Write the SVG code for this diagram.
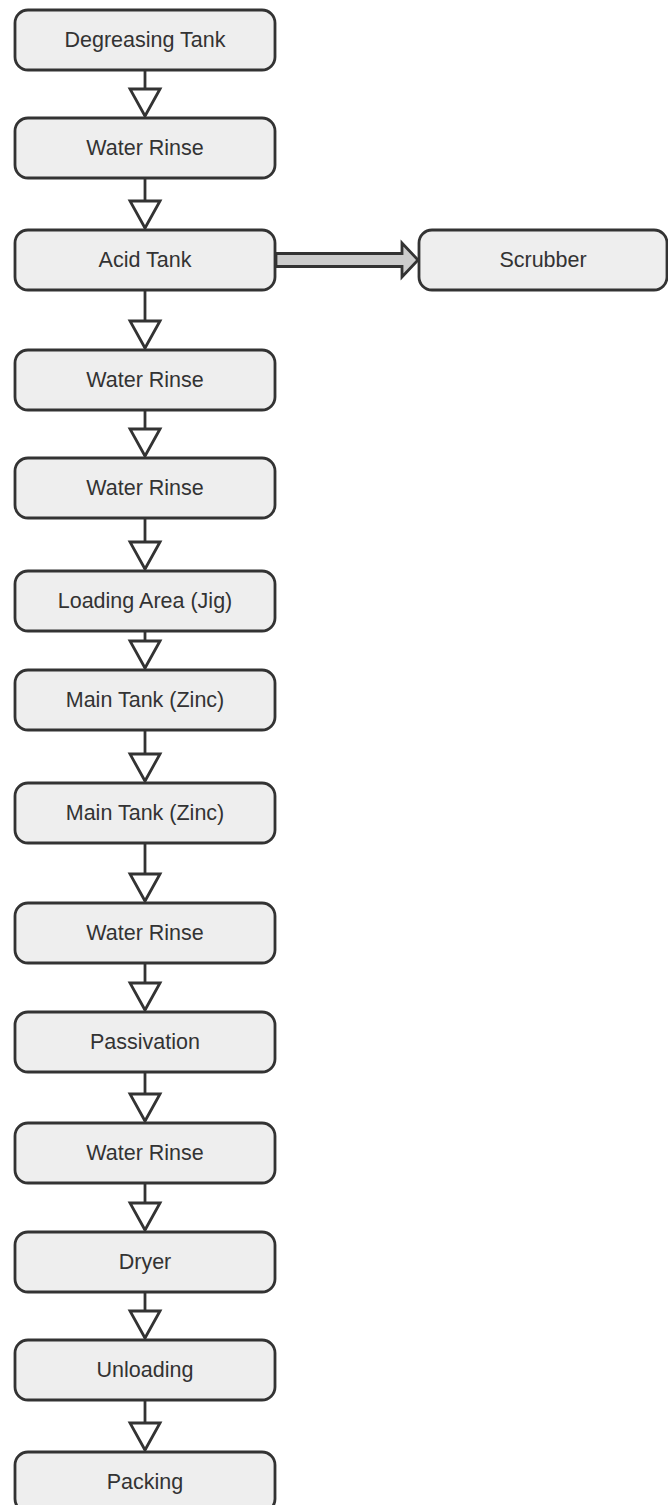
<svg xmlns="http://www.w3.org/2000/svg" width="668" height="1505" viewBox="0 0 668 1505">
<style>
.node rect{fill:#eeeeee;stroke:#333333;stroke-width:2.8}
.node text{font-family:"Liberation Sans",Arial,sans-serif;font-size:21.5px;fill:#333333;text-anchor:middle;dominant-baseline:central}
.flow{stroke:#333333;stroke-width:2.8;fill:none}
.big{fill:#cccccc;stroke:#333333;stroke-width:2.8;stroke-linejoin:miter}
</style>
<defs>
<marker id="tri" markerUnits="userSpaceOnUse" markerWidth="34" markerHeight="36" viewBox="-2 -2 34 36" refX="27" refY="15" orient="auto" overflow="visible">
<path d="M0,0 L27,15 L0,30 Z" fill="#ffffff" stroke="#333333" stroke-width="2.8"/>
</marker>
</defs>
<g id="connectors">
<line class="flow" x1="145" y1="71" x2="145" y2="116" marker-end="url(#tri)"/>
<line class="flow" x1="145" y1="179" x2="145" y2="228" marker-end="url(#tri)"/>
<line class="flow" x1="145" y1="291" x2="145" y2="348" marker-end="url(#tri)"/>
<line class="flow" x1="145" y1="411" x2="145" y2="456" marker-end="url(#tri)"/>
<line class="flow" x1="145" y1="519" x2="145" y2="569" marker-end="url(#tri)"/>
<line class="flow" x1="145" y1="632" x2="145" y2="668" marker-end="url(#tri)"/>
<line class="flow" x1="145" y1="731" x2="145" y2="781" marker-end="url(#tri)"/>
<line class="flow" x1="145" y1="844" x2="145" y2="901" marker-end="url(#tri)"/>
<line class="flow" x1="145" y1="964" x2="145" y2="1010" marker-end="url(#tri)"/>
<line class="flow" x1="145" y1="1073" x2="145" y2="1121" marker-end="url(#tri)"/>
<line class="flow" x1="145" y1="1184" x2="145" y2="1230" marker-end="url(#tri)"/>
<line class="flow" x1="145" y1="1293" x2="145" y2="1338" marker-end="url(#tri)"/>
<line class="flow" x1="145" y1="1401" x2="145" y2="1450" marker-end="url(#tri)"/>
<path class="big" d="M276,253.5 L402,253.5 L402,243 L418,260 L402,277 L402,266.5 L276,266.5 Z"/>
</g>
<g id="n1" class="node"><rect x="15" y="10" width="260" height="60" rx="13"/><text x="145" y="40">Degreasing Tank</text></g>
<g id="n2" class="node"><rect x="15" y="118" width="260" height="60" rx="13"/><text x="145" y="148">Water Rinse</text></g>
<g id="n3" class="node"><rect x="15" y="230" width="260" height="60" rx="13"/><text x="145" y="260">Acid Tank</text></g>
<g id="n4" class="node"><rect x="419" y="230" width="248" height="60" rx="13"/><text x="543" y="260">Scrubber</text></g>
<g id="n5" class="node"><rect x="15" y="350" width="260" height="60" rx="13"/><text x="145" y="380">Water Rinse</text></g>
<g id="n6" class="node"><rect x="15" y="458" width="260" height="60" rx="13"/><text x="145" y="488">Water Rinse</text></g>
<g id="n7" class="node"><rect x="15" y="571" width="260" height="60" rx="13"/><text x="145" y="601">Loading Area (Jig)</text></g>
<g id="n8" class="node"><rect x="15" y="670" width="260" height="60" rx="13"/><text x="145" y="700">Main Tank (Zinc)</text></g>
<g id="n9" class="node"><rect x="15" y="783" width="260" height="60" rx="13"/><text x="145" y="813">Main Tank (Zinc)</text></g>
<g id="n10" class="node"><rect x="15" y="903" width="260" height="60" rx="13"/><text x="145" y="933">Water Rinse</text></g>
<g id="n11" class="node"><rect x="15" y="1012" width="260" height="60" rx="13"/><text x="145" y="1042">Passivation</text></g>
<g id="n12" class="node"><rect x="15" y="1123" width="260" height="60" rx="13"/><text x="145" y="1153">Water Rinse</text></g>
<g id="n13" class="node"><rect x="15" y="1232" width="260" height="60" rx="13"/><text x="145" y="1262">Dryer</text></g>
<g id="n14" class="node"><rect x="15" y="1340" width="260" height="60" rx="13"/><text x="145" y="1370">Unloading</text></g>
<g id="n15" class="node"><rect x="15" y="1452" width="260" height="60" rx="13"/><text x="145" y="1482">Packing</text></g>
</svg>
